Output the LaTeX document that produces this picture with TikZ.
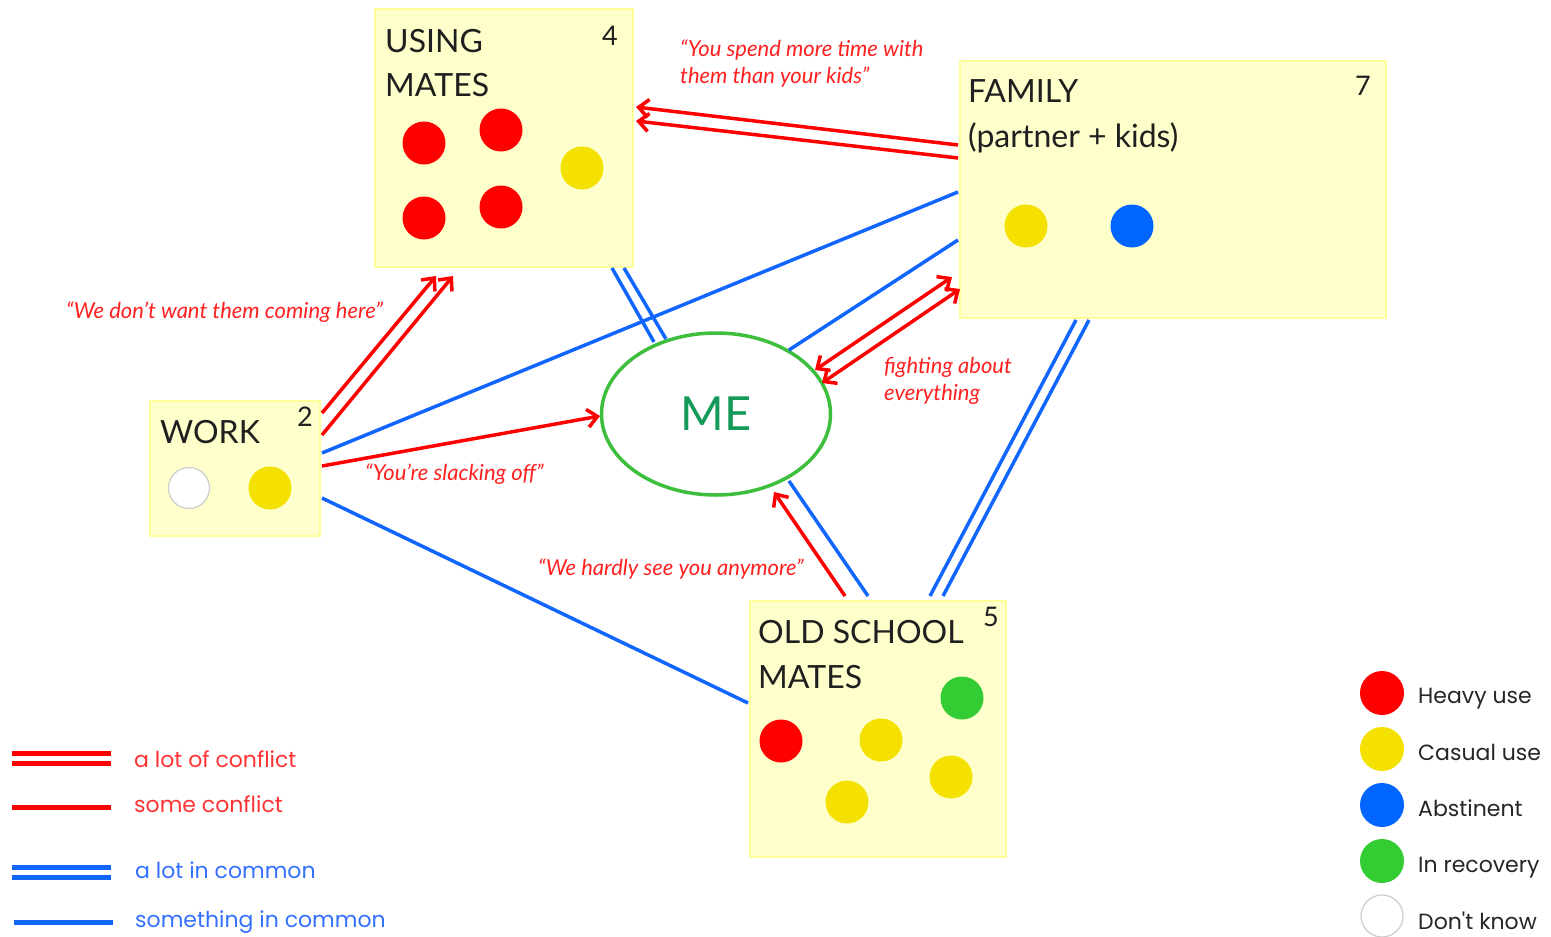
\documentclass[tikz,border=0pt]{standalone}
\usepackage{fontspec}
\setmainfont{Lato}
\newfontfamily\legfont{Poppins}
\usetikzlibrary{arrows.meta,shapes.geometric}
\definecolor{boxfill}{HTML}{FFFFCC}
\definecolor{boxline}{HTML}{FFFF99}
\definecolor{lred}{HTML}{FF0000}
\definecolor{lblue}{HTML}{1166FF}
\definecolor{dyellow}{HTML}{F5E100}
\definecolor{dblue}{HTML}{0066FF}
\definecolor{dgreen}{HTML}{33CC33}
\definecolor{megreen}{HTML}{3DBE3D}
\definecolor{metext}{HTML}{159A5A}
\definecolor{qred}{HTML}{FF2020}
\definecolor{legred}{HTML}{FF3333}
\definecolor{legblue}{HTML}{3370FF}
\begin{document}
\begin{tikzpicture}[x=1pt,y=-1pt,
  box/.style={draw=boxline,fill=boxfill,line width=2pt,anchor=north west,inner sep=0pt,outer sep=0pt},
  ttl/.style={anchor=base west,inner sep=0pt,font=\fontsize{32}{38}\selectfont,text=black!88},
  numl/.style={anchor=base east,inner sep=0pt,font=\fontsize{27}{32}\selectfont,text=black!88},
  dotc/.style={circle,inner sep=0pt,minimum size=43pt},
  qtext/.style={anchor=base west,inner sep=0pt,font=\fontsize{22}{26}\selectfont\itshape,text=qred},
  conf/.style={draw=lred,line width=3.5pt},
  comm/.style={draw=lblue,line width=3.5pt},
  arrone/.style={-{Straight Barb[length=10pt,width=18pt]}},
  arrtwo/.style={{Straight Barb[length=10pt,width=18pt]}-{Straight Barb[length=10pt,width=18pt]}},
  legtxt/.style={anchor=base west,inner sep=0pt,font=\legfont\fontsize{22}{26}\selectfont},
  legline/.style={line width=5pt}
]
\useasboundingbox (0,0) rectangle (1551,937);

% boxes
\node[box,minimum width=258pt,minimum height=258pt] (um) at (375,9) {};
\node[box,minimum width=426pt,minimum height=257pt] (fam) at (960,61) {};
\node[box,minimum width=170pt,minimum height=135pt] (work) at (150,401) {};
\node[box,minimum width=256pt,minimum height=256pt] (osm) at (750,601) {};
\node[draw=megreen,line width=3.5pt,ellipse,minimum width=229pt,minimum height=162pt,inner sep=0pt,
      font=\fontsize{47}{50}\selectfont,text=metext] (me) at (716,414) {ME};

% titles
\node[ttl] (umt1) at (385,52) {USING};
\node[ttl] (umt2) at (385,96) {MATES};
\node[numl] (umn) at (618,45) {4};
\node[ttl] (famt1) at (968,102) {FAMILY};
\node[ttl] (famt2) at (968,147) {(partner + kids)};
\node[numl] (famn) at (1371,95) {7};
\node[ttl] (workt) at (160,443) {WORK};
\node[numl] (workn) at (313,426) {2};
\node[ttl] (osmt1) at (758,643) {OLD SCHOOL};
\node[ttl] (osmt2) at (758,688) {MATES};
\node[numl] (osmn) at (999,626) {5};

% dots
\node[dotc,fill=lred] (umd1) at (424,143) {};
\node[dotc,fill=lred] (umd2) at (501,130) {};
\node[dotc,fill=lred] (umd3) at (424,218) {};
\node[dotc,fill=lred] (umd4) at (501,207) {};
\node[dotc,fill=dyellow] (umd5) at (582,168) {};
\node[dotc,fill=dyellow] (famd1) at (1026,226) {};
\node[dotc,fill=dblue] (famd2) at (1132,226) {};
\node[dotc,fill=white,draw=black!20,line width=1.2pt,minimum size=41pt] (workd1) at (189,488) {};
\node[dotc,fill=dyellow] (workd2) at (270,488) {};
\node[dotc,fill=dgreen] (osmd1) at (962,698) {};
\node[dotc,fill=lred] (osmd2) at (781,741) {};
\node[dotc,fill=dyellow] (osmd3) at (881,740) {};
\node[dotc,fill=dyellow] (osmd4) at (951,777) {};
\node[dotc,fill=dyellow] (osmd5) at (847,802) {};

% connector end points
\coordinate (umS1) at (612,268); \coordinate (meN1) at (654,342);
\coordinate (umS2) at (624,268); \coordinate (meN2) at (666,339);
\coordinate (famW1) at (958,145); \coordinate (umE1) at (636,107);
\coordinate (famW2) at (958,158); \coordinate (umE2) at (636,121);
\coordinate (workE1) at (322,413); \coordinate (umB1) at (436,276);
\coordinate (workE2) at (322,435); \coordinate (umB2) at (453,276);
\coordinate (workE3) at (322,453); \coordinate (famW3) at (958,192);
\coordinate (workE4) at (322,466); \coordinate (meW) at (600,416);
\coordinate (workE5) at (322,498); \coordinate (osmW) at (748,703);
\coordinate (famW4) at (958,240); \coordinate (meNE) at (789,350);
\coordinate (meE1) at (815,370); \coordinate (famW5) at (952,277);
\coordinate (meE2) at (822,383); \coordinate (famW6) at (960,289);
\coordinate (famS1) at (1076,320); \coordinate (osmN1) at (930,596);
\coordinate (famS2) at (1089,320); \coordinate (osmN2) at (943,596);
\coordinate (osmN3) at (845,596); \coordinate (meS1) at (774,492);
\coordinate (osmN4) at (868,596); \coordinate (meS2) at (789,481);

% connectors
\draw[comm] (umS1) -- (meN1);
\draw[comm] (umS2) -- (meN2);
\draw[comm] (workE3) -- (famW3);
\draw[comm] (workE5) -- (osmW);
\draw[comm] (famW4) -- (meNE);
\draw[comm] (famS1) -- (osmN1);
\draw[comm] (famS2) -- (osmN2);
\draw[comm] (osmN4) -- (meS2);
\draw[conf,arrone] (famW1) -- (umE1);
\draw[conf,arrone] (famW2) -- (umE2);
\draw[conf,arrone] (workE1) -- (umB1);
\draw[conf,arrone] (workE2) -- (umB2);
\draw[conf,arrone] (workE4) -- (meW);
\draw[conf,arrtwo] (meE1) -- (famW5);
\draw[conf,arrtwo] (meE2) -- (famW6);
\draw[conf,arrone] (osmN3) -- (meS1);

% quotes
\node[qtext] (q1a) at (680,56) {“You spend more time with};
\node[qtext] (q1b) at (680,83) {them than your kids”};
\node[qtext] (q2) at (66,318) {“We don’t want them coming here”};
\node[qtext] (q3) at (365,480) {“You’re slacking off”};
\node[qtext] (q4a) at (884,373) {fighting about};
\node[qtext] (q4b) at (884,400) {everything};
\node[qtext] (q5) at (538,575) {“We hardly see you anymore”};

% left legend
\draw[legline,lred] (12,753) -- (111,753);
\draw[legline,lred] (12,763) -- (111,763);
\draw[legline,lred] (12,807) -- (111,807);
\draw[legline,lblue] (12,867) -- (111,867);
\draw[legline,lblue] (12,877) -- (111,877);
\draw[legline,lblue] (14,922) -- (113,922);
\node[legtxt,text=legred] (l1) at (134,767) {a lot of conflict};
\node[legtxt,text=legred] (l2) at (134,812) {some conflict};
\node[legtxt,text=legblue] (l3) at (135,878) {a lot in common};
\node[legtxt,text=legblue] (l4) at (135,927) {something in common};

% right legend
\node[dotc,fill=lred,minimum size=44pt] (k1) at (1382,693) {};
\node[dotc,fill=dyellow,minimum size=44pt] (k2) at (1382,749) {};
\node[dotc,fill=dblue,minimum size=44pt] (k3) at (1382,805) {};
\node[dotc,fill=dgreen,minimum size=44pt] (k4) at (1382,861) {};
\node[dotc,fill=white,draw=black!20,line width=1.2pt,minimum size=42pt] (k5) at (1382,916) {};
\node[legtxt,text=black!85] (kt1) at (1418,703) {Heavy use};
\node[legtxt,text=black!85] (kt2) at (1418,760) {Casual use};
\node[legtxt,text=black!85] (kt3) at (1418,816) {Abstinent};
\node[legtxt,text=black!85] (kt4) at (1418,872) {In recovery};
\node[legtxt,text=black!85] (kt5) at (1418,929) {Don't know};
\end{tikzpicture}
\end{document}
